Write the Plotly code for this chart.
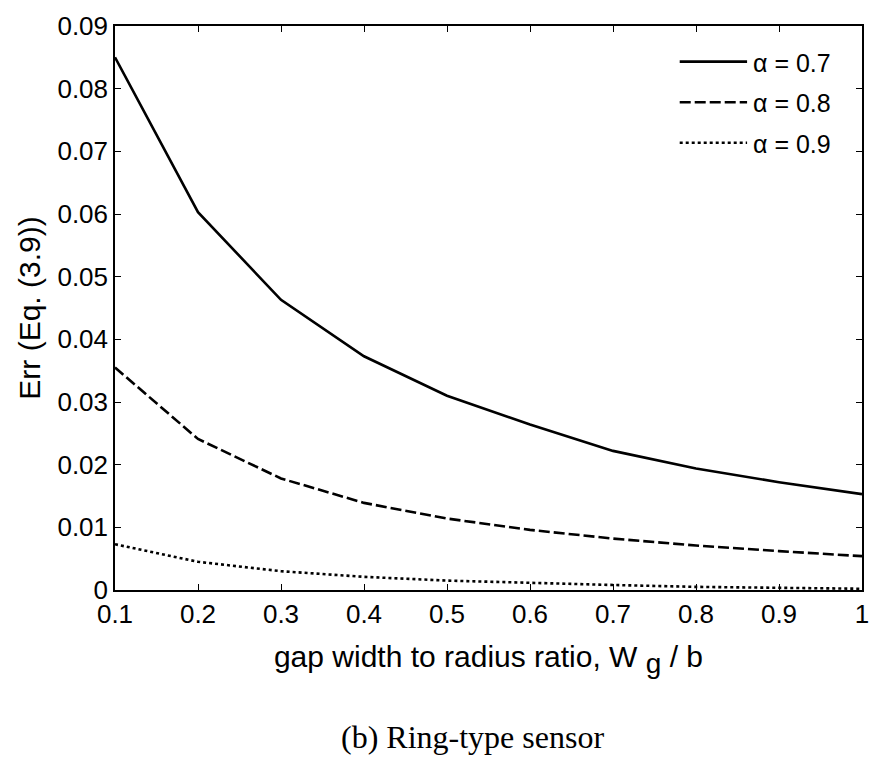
import plotly.graph_objects as go

x_vals = [0.1, 0.2, 0.3, 0.4, 0.5, 0.6, 0.7, 0.8, 0.9, 1.0]
err_a07 = [0.0850, 0.0603, 0.0463, 0.0373, 0.0310, 0.0264, 0.0222, 0.0194, 0.0172, 0.0153]
err_a08 = [0.0355, 0.0241, 0.0178, 0.0139, 0.0114, 0.0096, 0.0082, 0.0071, 0.0062, 0.0054]
err_a09 = [0.0073, 0.0045, 0.0030, 0.0021, 0.0015, 0.0011, 0.0008, 0.0005, 0.0003, 0.0002]
series_names = ["α = 0.7", "α = 0.8", "α = 0.9"]
dashes = ["solid", "11px,4px", "3px,3px"]
x_ticks = [0.1, 0.2, 0.3, 0.4, 0.5, 0.6, 0.7, 0.8, 0.9, 1.0]
x_ticktext = ["0.1", "0.2", "0.3", "0.4", "0.5", "0.6", "0.7", "0.8", "0.9", "1"]
y_ticks = [0, 0.01, 0.02, 0.03, 0.04, 0.05, 0.06, 0.07, 0.08, 0.09]
y_ticktext = ["0", "0.01", "0.02", "0.03", "0.04", "0.05", "0.06", "0.07", "0.08", "0.09"]

SANS = "Liberation Sans, Arial"
SERIF = "Liberation Serif, Times New Roman"

fig = go.Figure()
for ys, name, d in zip([err_a07, err_a08, err_a09], series_names, dashes):
    fig.add_trace(go.Scatter(x=x_vals, y=ys, mode="lines", name=name,
                             line=dict(color="black", width=2.6, dash=d),
                             showlegend=False))

W, H = 880, 761
ml, mr, mt, mb = 115, 11, 20, 171
pw, ph = W - ml - mr, H - mt - mb

def px_to_paper(px, py):
    return (px - ml) / pw, 1 - (py - mt) / ph

# manual legend
leg_rows = [56, 97, 138]
for name, d, yy in zip(series_names, dashes, leg_rows):
    x0, y0 = px_to_paper(685, yy)
    x1, _ = px_to_paper(753, yy)
    fig.add_shape(type="line", xref="paper", yref="paper", x0=x0, x1=x1, y0=y0, y1=y0,
                  line=dict(color="black", width=2.6, dash=d))
    tx, ty = px_to_paper(757, yy + 1)
    fig.add_annotation(xref="paper", yref="paper", x=tx, y=ty, text=name, showarrow=False,
                       xanchor="left", yanchor="middle",
                       font=dict(family=SANS, size=25, color="black"))

axis_common = dict(showline=True, linecolor="black", linewidth=1.5, mirror="ticks",
                   ticks="inside", ticklen=6, tickwidth=1, tickcolor="black",
                   showgrid=False, zeroline=False,
                   tickfont=dict(family=SANS, size=26, color="black"))

fig.update_xaxes(range=[0.1, 1.0], tickvals=x_ticks, ticktext=x_ticktext,
                 title=dict(text="gap width to radius ratio, W <sub><span style='font-size:28px'>g</span></sub> / b",
                            font=dict(family=SANS, size=30, color="black"),
                            standoff=18),
                 **axis_common)
fig.update_yaxes(range=[0, 0.09], tickvals=y_ticks, ticktext=y_ticktext,
                 title=dict(text="Err (Eq. (3.9))",
                            font=dict(family=SANS, size=30, color="black"),
                            standoff=8),
                 **axis_common)

cx, cy = px_to_paper(476, 739)
fig.add_annotation(xref="paper", yref="paper", x=cx, y=cy,
                   text="(b) Ring-type sensor", showarrow=False, xanchor="center", yanchor="middle",
                   font=dict(family=SERIF, size=32, color="black"))

fig.update_layout(width=W, height=H, margin=dict(l=ml, r=mr, t=mt, b=mb),
                  plot_bgcolor="white", paper_bgcolor="white")

fig.write_html("out.html")
